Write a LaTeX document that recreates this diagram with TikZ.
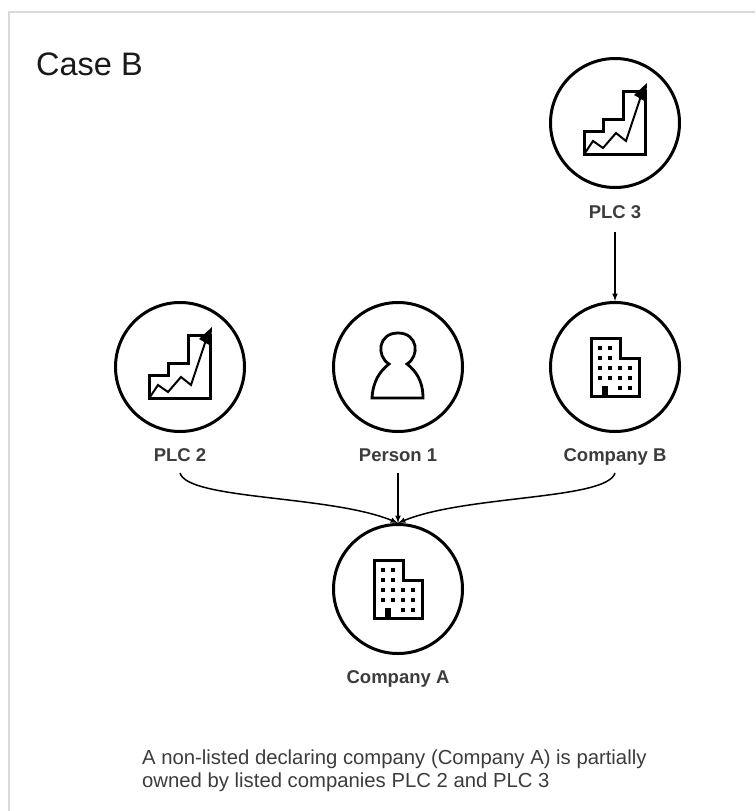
\documentclass[tikz,border=0pt]{standalone}
\usepackage{fontspec}
\setmainfont{Liberation Sans}
\usepackage{xcolor}
\definecolor{labelgray}{HTML}{3C3C3C}
\definecolor{framegray}{HTML}{DADADA}
\begin{document}
\begin{tikzpicture}[x=1pt,y=-1pt,
  disc/.style={circle,draw,line width=3pt,minimum size=129pt,inner sep=0pt},
  caption/.style={anchor=base,text=labelgray,font=\bfseries\fontsize{18.5}{20}\selectfont,inner sep=0pt},
  link/.style={-latex,line width=1.5pt},
  glyph/.style={line width=3pt,line join=miter}]
	\useasboundingbox (0,0) rectangle (755,811);
	\draw[framegray,line width=1.5pt] (9,811) -- (9,12) -- (755,12);
	\node[anchor=base west,inner sep=0pt,font=\fontsize{32.5}{36}\selectfont,text=black!90] (title) at (36,75) {Case B};

	\node[disc] (plcthree) at (615,123) {};
	\node[disc] (plctwo) at (180,367) {};
	\node[disc] (personone) at (398,367) {};
	\node[disc] (companyb) at (615,367) {};
	\node[disc] (companya) at (398,589) {};

	\node[caption] (plcthreelabel) at (615,218) {PLC 3};
	\node[caption] (plctwolabel) at (180,461) {PLC 2};
	\node[caption] (persononelabel) at (398,461) {Person 1};
	\node[caption] (companyblabel) at (615,461) {Company B};
	\node[caption] (companyalabel) at (398,683) {Company A};

	\coordinate (plcthreeout) at (615,232);
	\coordinate (plctwoout) at (180,473);
	\coordinate (persononeout) at (398,473);
	\coordinate (companybout) at (615,473);

	\draw[link] (plcthreeout) -- (companyb.north);
	\draw[link] (persononeout) -- (companya.north);
	\draw[link] (plctwoout) .. controls (188,500) and (330,495) .. (companya.north);
	\draw[link] (companybout) .. controls (607,500) and (466,495) .. (companya.north);

	% chart icons
	\foreach \cx/\cy in {615/123,180/367}{
	\begin{scope}[shift={(\cx,\cy)}]
		\draw[glyph] (-30.5,31) -- (-30.5,8) -- (-12,8) -- (-12,-4) -- (8,-4) -- (8,-31.5) -- (30.5,-31.5) -- (30.5,31) -- cycle;
		\draw[line width=2pt] (-30,30) -- (-22,18) -- (-12,25) -- (1,10) -- (11,18) -- (27,-30);
		\fill (32,-40) -- (31,-21) -- (19,-28) -- cycle;
	\end{scope}
	}

	% building icons
	\foreach \cx/\cy in {615/367,398/589}{
	\begin{scope}[shift={(\cx,\cy)}]
		\draw[glyph] (-24,29.5) -- (-24,-28.5) -- (5,-28.5) -- (5,-9) -- (24,-9) -- (24,29.5) -- cycle;
		\foreach \wx/\wy in {-15/-19,-5/-19,-15/-9,-5/-9,-15/1,-5/1,5/1,15/1,-15/11,-5/11,5/11,15/11,5/21,15/21}{
			\fill (\wx-2.3,\wy-2.3) rectangle (\wx+2.3,\wy+2.3);
		}
		\fill (-13,19) rectangle (-7,30);
	\end{scope}
	}

	% person icon
	\draw[line width=2.8pt] (372,398) -- (423,398) .. controls (423,381) and (416,371) .. (407,364)
		.. controls (420,356) and (418,333) .. (398,333)
		.. controls (378,333) and (376,356) .. (389,364)
		.. controls (380,371) and (373,381) .. (372,398) -- cycle;

	\node[anchor=north west,align=left,inner sep=0pt,text=labelgray,font=\fontsize{20.3}{23}\selectfont] (note) at (142,750) {A non-listed declaring company (Company A) is partially\\owned by listed companies PLC 2 and PLC 3};
\end{tikzpicture}
\end{document}
